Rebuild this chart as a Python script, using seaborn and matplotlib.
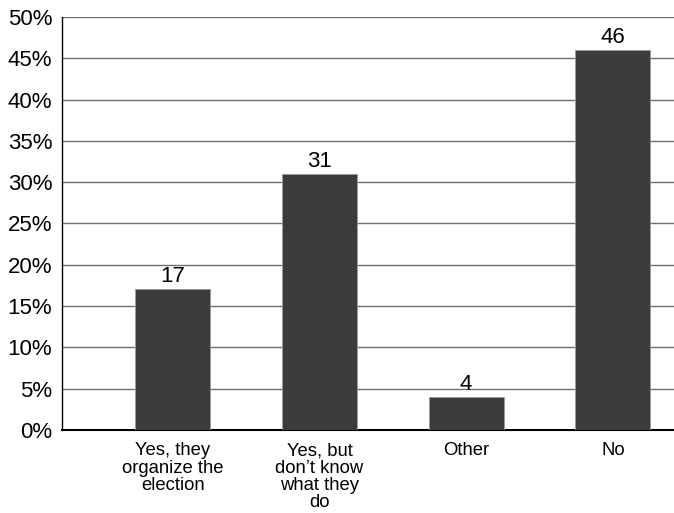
import pandas as pd
import matplotlib.pyplot as plt
import seaborn as sns
from matplotlib.ticker import MultipleLocator, FuncFormatter

# chart data
categories = ["Yes, they\norganize the\nelection", "Yes, but\ndon\u2019t know\nwhat they\ndo", "Other", "No"]
values = [17, 31, 4, 46]

df = pd.DataFrame({"answer": categories, "share": values})

sns.set_theme(style="white")
plt.rcParams['font.family'] = ['Liberation Sans', 'DejaVu Sans']

fig = plt.figure(figsize=(6.74, 5.13), dpi=100)
ax = fig.add_axes([0.092, 0.162, 0.908, 0.805])

sns.barplot(data=df, x="answer", y="share", color="#3b3b3b", saturation=1,
            width=0.51, edgecolor="#9a9a9a", linewidth=0.6, ax=ax, zorder=3)

#value labels on top of bars
ax.bar_label(ax.containers[0], labels=[str(v) for v in values], padding=1.5,
             fontsize=16, color="black")

ax.set_ylim(0, 50)
ax.set_xlim(-0.755, 3.417)
ax.yaxis.set_major_locator(MultipleLocator(5))
ax.yaxis.set_major_formatter(FuncFormatter(lambda v, p: f"{v:.0f}%"))
ax.grid(True, axis='y', color="#707070", linewidth=1.0, zorder=0)
ax.set_axisbelow(True)
ax.grid(False, axis='x')
gl = ax.get_ygridlines()
gl[-1].set_color("#b0b0b0")

ax.set_xlabel("")
ax.set_ylabel("")
ax.tick_params(axis='y', labelsize=16, length=0, pad=7, colors="black")
ax.tick_params(axis='x', labelsize=13.3, length=0, pad=9, colors="black")
for t in ax.get_xticklabels():
    t.set_linespacing(1.02)
    t.set_verticalalignment('top')

for side in ["top", "right"]:
    ax.spines[side].set_visible(False)
ax.spines["left"].set_color("black")
ax.spines["left"].set_linewidth(1.0)
ax.spines["bottom"].set_color("black")
ax.spines["bottom"].set_linewidth(1.5)

plt.savefig("out.png", dpi=100)
